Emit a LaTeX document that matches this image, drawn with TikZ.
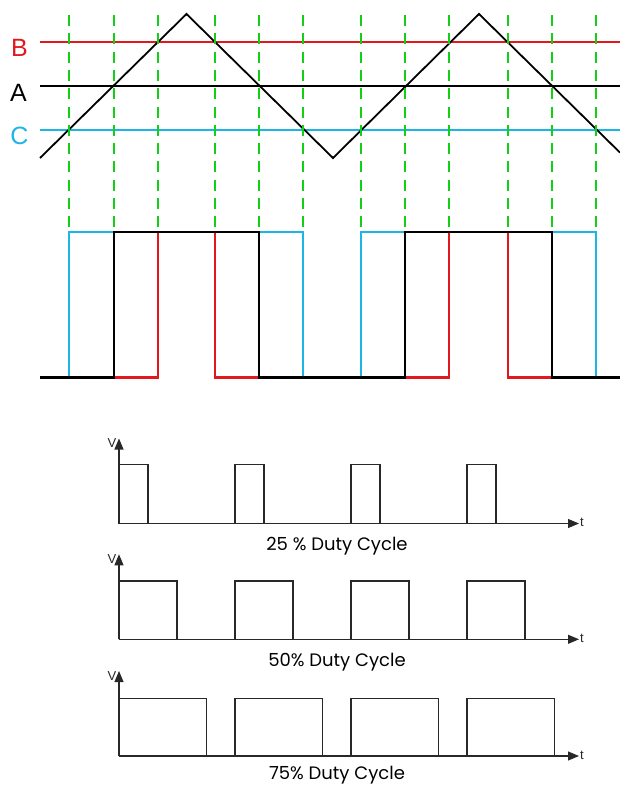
\documentclass[tikz,border=0pt]{standalone}
\usepackage{fontspec}
\setmainfont{Liberation Sans}
\newfontfamily\capfont{Poppins}
\usetikzlibrary{arrows.meta}
\definecolor{sigred}{RGB}{226,24,30}
\definecolor{sigcyan}{RGB}{28,182,230}
\definecolor{siggreen}{RGB}{20,208,20}
\definecolor{axisgrey}{RGB}{40,40,40}
\tikzset{
  level/.style={line width=1.6pt},
  carrier/.style={line width=1.8pt, line join=miter},
  marker/.style={siggreen, line width=1.4pt, dash pattern=on 11pt off 7.3pt},
  pwm/.style={line width=2.4pt, line join=miter},
  axis/.style={axisgrey, line width=1.1pt, -{Triangle[length=11pt,width=9pt]}},
  pulse/.style={axisgrey, line width=1.1pt},
  levellabel/.style={font=\fontsize{25}{25}\selectfont, inner sep=0pt},
  axlabel/.style={font=\fontsize{13}{13}\selectfont, inner sep=0pt, axisgrey},
  caption/.style={font=\capfont\fontsize{18}{18}\selectfont, inner sep=0pt, black}
}
\begin{document}
\begin{tikzpicture}[x=1pt,y=-1pt]
\useasboundingbox (0,0) rectangle (620,787);

% comparison levels
\draw[level, sigred] (40,42) -- (620,42);
\draw[level, black] (40,86) -- (620,86);
\draw[level, sigcyan, line width=2pt] (40,129.5) -- (620,129.5);
\node[levellabel, sigred] (lblB) at (19.5,48) {B};
\node[levellabel, black] (lblA) at (18.5,92.5) {A};
\node[levellabel, sigcyan] (lblC) at (19.5,135.5) {C};

% triangular carrier
\draw[carrier] (40,158) -- (186.5,14) -- (333,158) -- (479,14) -- (620,152.6);

% switching instants
\foreach \xx in {69,114,158,215,259,303,361,405,449,508,552,596}
  \draw[marker] (\xx,15) -- (\xx,230);

% resulting PWM outputs
\draw[pwm, sigcyan] (40,377.3) -- (69,377.3) -- (69,232) -- (303,232) -- (303,377.3)
  -- (361,377.3) -- (361,232) -- (596,232) -- (596,377.3) -- (620,377.3);
\draw[pwm, sigred] (40,377.3) -- (158,377.3) -- (158,232) -- (215,232) -- (215,377.3)
  -- (449,377.3) -- (449,232) -- (508,232) -- (508,377.3) -- (620,377.3);
\draw[pwm, black] (40,377.3) -- (114,377.3) -- (114,232) -- (259,232) -- (259,377.3)
  -- (405,377.3) -- (405,232) -- (552,232) -- (552,377.3) -- (620,377.3);

% duty cycle examples
\foreach \yb/\yt/\w/\txt/\cy [count=\i] in {523.5/464.3/29/{25 \% Duty Cycle}/546.5,
                                            639.3/581/58/{50\% Duty Cycle}/662.3,
                                            756/698.7/87.5/{75\% Duty Cycle}/775.5} {
  \foreach \xs in {119,235,351,467}
    \draw[pulse] (\xs,\yb) -- (\xs,\yt) -- (\xs+\w,\yt) -- (\xs+\w,\yb);
  \draw[axis] (119,\yb) -- (119,\yb-85);
  \draw[axis] (119,\yb) -- (579,\yb);
  \node[axlabel] (v\i) at (112,\yb-80) {V};
  \node[axlabel] (t\i) at (582,\yb-1) {t};
  \node[caption] (cap\i) at (337,\cy) {\txt};
}
\end{tikzpicture}
\end{document}
